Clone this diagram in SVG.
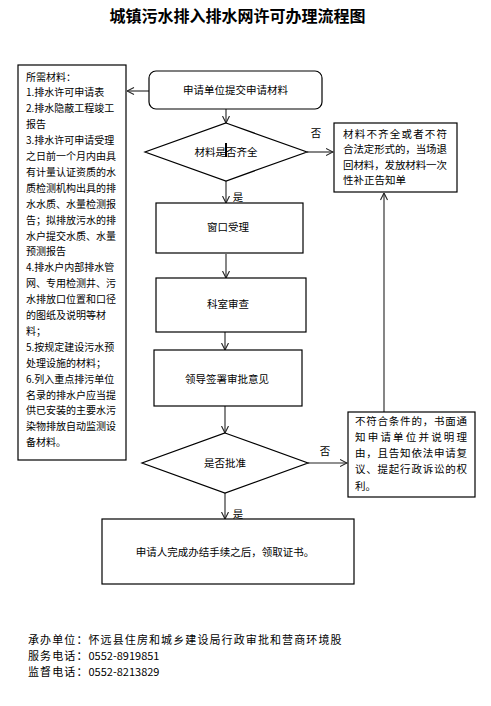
<svg xmlns="http://www.w3.org/2000/svg" width="491" height="706" viewBox="0 0 491 706">
<style>
text{font-family:"Noto Sans CJK SC","Noto Sans",sans-serif;fill:#000}
.box{fill:#fff;stroke:#000;stroke-width:1.2}
.t{font-size:10.5px}
.s{font-size:10px}
.c{text-anchor:middle}
.f{font-size:11px}
.ls{letter-spacing:1.1px}
.ln{stroke:#222;stroke-width:1.1;fill:none}
</style>
<defs>
<marker id="ah" viewBox="0 0 8 8" markerWidth="8" markerHeight="8" refX="7.5" refY="4" orient="auto" markerUnits="userSpaceOnUse">
<path d="M0.5,0.5 L7.5,4 L0.5,7.5" fill="none" stroke="#222" stroke-width="1.1"/>
</marker>
</defs>
<rect width="491" height="706" fill="#fff"/>
<text x="237.5" y="22" class="c" style="font-size:16px;font-weight:bold">城镇污水排入排水网许可办理流程图</text>

<g id="connectors">
<line class="ln" x1="149" y1="91" x2="127" y2="91" marker-end="url(#ah)"/>
<line class="ln" x1="226" y1="109" x2="226" y2="123" marker-end="url(#ah)"/>
<line class="ln" x1="307" y1="152" x2="333" y2="152" marker-end="url(#ah)"/>
<line class="ln" x1="226" y1="181" x2="226" y2="203" marker-end="url(#ah)"/>
<line class="ln" x1="226" y1="254" x2="226" y2="278" marker-end="url(#ah)"/>
<line class="ln" x1="225" y1="332" x2="225" y2="350" marker-end="url(#ah)"/>
<line class="ln" x1="225" y1="406" x2="225" y2="433" marker-end="url(#ah)"/>
<line class="ln" x1="308" y1="463" x2="347" y2="463" marker-end="url(#ah)"/>
<line class="ln" x1="225" y1="493" x2="225" y2="519" marker-end="url(#ah)"/>
<line class="ln" x1="384" y1="412" x2="384" y2="193" marker-end="url(#ah)"/>
<text x="316" y="137" class="t c">否</text>
<text x="238" y="201" class="t c">是</text>
<text x="325" y="455" class="t c">否</text>
<text x="238" y="518" class="t c">是</text>
</g>

<g id="materials">
<rect class="box" x="18" y="65" width="108" height="395"/>
<text class="s" x="26">
<tspan x="26" y="80.5">所需材料：</tspan>
<tspan x="26" y="96.4">1.排水许可申请表</tspan>
<tspan x="26" y="112.3">2.排水隐蔽工程竣工</tspan>
<tspan x="26" y="128.2">报告</tspan>
<tspan x="26" y="144.1">3.排水许可申请受理</tspan>
<tspan x="26" y="160">之日前一个月内由具</tspan>
<tspan x="26" y="175.9">有计量认证资质的水</tspan>
<tspan x="26" y="191.8">质检测机构出具的排</tspan>
<tspan x="26" y="207.7">水水质、水量检测报</tspan>
<tspan x="26" y="223.6">告；拟排放污水的排</tspan>
<tspan x="26" y="239.5">水户提交水质、水量</tspan>
<tspan x="26" y="255.4">预测报告</tspan>
<tspan x="26" y="271.3">4.排水户内部排水管</tspan>
<tspan x="26" y="287.2">网、专用检测井、污</tspan>
<tspan x="26" y="303.1">水排放口位置和口径</tspan>
<tspan x="26" y="319">的图纸及说明等材</tspan>
<tspan x="26" y="334.9">料；</tspan>
<tspan x="26" y="350.8">5.按规定建设污水预</tspan>
<tspan x="26" y="366.7">处理设施的材料；</tspan>
<tspan x="26" y="382.6">6.列入重点排污单位</tspan>
<tspan x="26" y="398.5">名录的排水户应当提</tspan>
<tspan x="26" y="414.4">供已安装的主要水污</tspan>
<tspan x="26" y="430.3">染物排放自动监测设</tspan>
<tspan x="26" y="446.2">备材料。</tspan>
</text>
</g>

<g id="submit">
<rect class="box" x="149" y="71" width="173" height="38" rx="7"/>
<text x="235.5" y="93.7" class="t c">申请单位提交申请材料</text>
</g>

<g id="check">
<polygon class="box" points="226,123 307,152 226,181 145,152"/>
<text x="226" y="155.7" class="t c">材料是否齐全</text>
<rect x="225" y="143" width="2" height="14" fill="#000"/>
</g>

<g id="reject1">
<rect class="box" x="334" y="123" width="123" height="69"/>
<text class="t">
<tspan x="343" y="138" textLength="104" lengthAdjust="spacing">材料不齐全或者不符</tspan>
<tspan x="343" y="153.3" textLength="104" lengthAdjust="spacing">合法定形式的，当场退</tspan>
<tspan x="343" y="168.6" textLength="104" lengthAdjust="spacing">回材料，发放材料一次</tspan>
<tspan x="343" y="184">性补正告知单</tspan>
</text>
</g>

<g id="window">
<rect class="box" x="156" y="203" width="147" height="50"/>
<text x="228" y="231" class="t c">窗口受理</text>
</g>

<g id="review">
<rect class="box" x="156" y="278" width="150" height="54"/>
<text x="228" y="308" class="t c">科室审查</text>
</g>

<g id="leader">
<rect class="box" x="154" y="350" width="148" height="56"/>
<text x="227" y="383" class="t c">领导签署审批意见</text>
</g>

<g id="approve">
<polygon class="box" points="225,433 308,463 225,493 142,463"/>
<text x="225" y="467" class="t c">是否批准</text>
</g>

<g id="reject2">
<rect class="box" x="348" y="412" width="127" height="85"/>
<text class="t">
<tspan x="355" y="425" textLength="112" lengthAdjust="spacing">不符合条件的，书面通</tspan>
<tspan x="355" y="441" textLength="112" lengthAdjust="spacing">知申请单位并说明理</tspan>
<tspan x="355" y="457" textLength="112" lengthAdjust="spacing">由，且告知依法申请复</tspan>
<tspan x="355" y="473" textLength="112" lengthAdjust="spacing">议、提起行政诉讼的权</tspan>
<tspan x="355" y="490">利。</tspan>
</text>
</g>

<g id="finish">
<rect class="box" x="102" y="519" width="252" height="65"/>
<text x="225" y="556" class="t c">申请人完成办结手续之后，领取证书。</text>
</g>

<g id="footer">
<text class="f ls" x="28" y="644">承办单位：怀远县住房和城乡建设局行政审批和营商环境股</text>
<text class="f" x="28" y="660"><tspan class="ls">服务电话：</tspan>0552-8919851</text>
<text class="f" x="28" y="676"><tspan class="ls">监督电话：</tspan>0552-8213829</text>
</g>
</svg>
